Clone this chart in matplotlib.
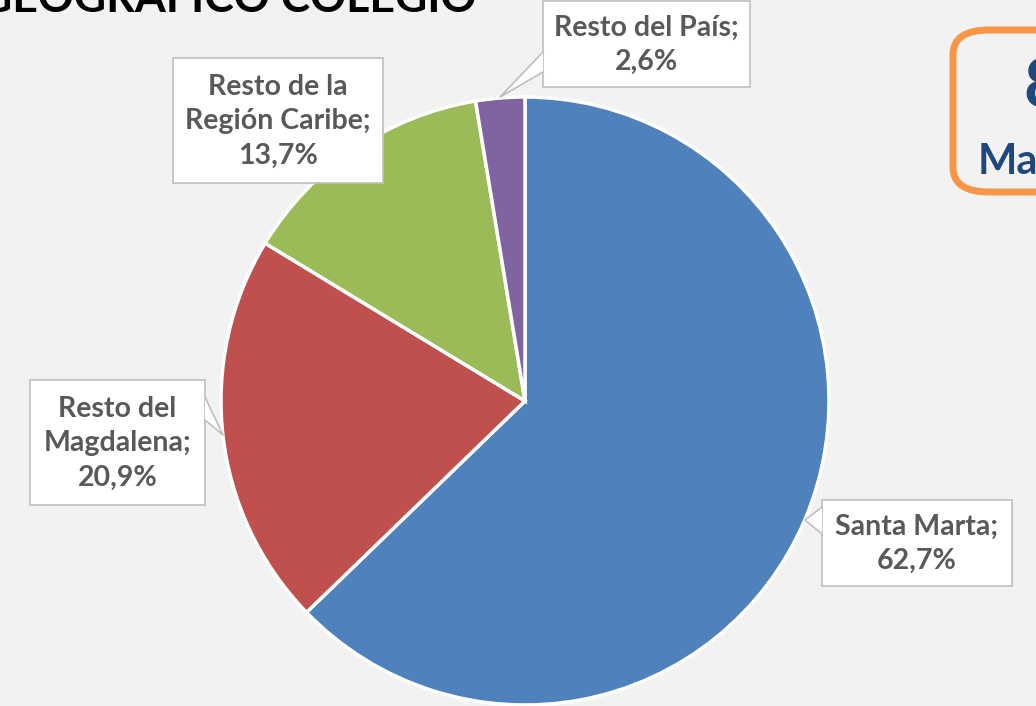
import matplotlib.pyplot as plt
from matplotlib.patches import Rectangle, Polygon, FancyBboxPatch
from matplotlib.lines import Line2D

categories = ["Santa Marta", "Resto del\nMagdalena", "Resto de la\nRegión Caribe", "Resto del País"]
values = [62.7, 20.9, 13.7, 2.6]
colors = ["#4F81BD", "#C0504D", "#9BBB59", "#8064A2"]

W, H = 1036, 706
BG = "#F2F2F2"
TXT = "#595959"
FONT = "Lato"

fig = plt.figure(figsize=(W / 100, H / 100), dpi=100, facecolor=BG)

def fx(x):
    return x / W

def fy(y):
    return 1 - y / H

# pie, center ~ (525, 401) px, radius ~ 304 px
cx, cy, r = 525, 401, 304
ax = fig.add_axes([fx(cx - r), fy(cy + r), 2 * r / W, 2 * r / H])
ax.set_facecolor(BG)
ax.pie(values, colors=colors, startangle=90, counterclock=False,
       wedgeprops=dict(edgecolor="white", linewidth=2.5), radius=1)
ax.set_xlim(-1, 1)
ax.set_ylim(-1, 1)
ax.axis("off")

def fmt(v):
    return f"{v:.1f}".replace(".", ",") + "%"

# callout boxes: (left, top, right, bottom) px, pointer (base1, tip, base2) px
boxes = [
    ((822, 500, 1012, 586), [(822, 507), (805, 520), (822, 534)]),
    ((30, 380, 205, 505), [(205, 397), (223, 435), (205, 420)]),
    ((173, 58, 383, 183), None),
    ((543, 1, 750, 87), [(543, 52), (500, 97), (543, 72)]),
]

for (cat, v), (box, ptr) in zip(zip(categories, values), boxes):
    l, t, rr, b = box
    fig.patches.append(Rectangle((fx(l), fy(b)), fx(rr) - fx(l), fy(t) - fy(b),
                                 transform=fig.transFigure, facecolor="white",
                                 edgecolor="#BFBFBF", linewidth=1.2, zorder=5))
    if ptr:
        pts = [(fx(x), fy(y)) for x, y in ptr]
        fig.patches.append(Polygon(pts, closed=True, transform=fig.transFigure,
                                   facecolor="white", edgecolor="none", zorder=6))
        fig.lines.append(Line2D([p[0] for p in pts], [p[1] for p in pts],
                                transform=fig.transFigure, color="#BFBFBF",
                                linewidth=1.2, zorder=7))
    fig.text(fx((l + rr) / 2), fy((t + b) / 2 + 1), f"{cat};\n{fmt(v)}",
             ha="center", va="center", fontsize=20.5, fontweight="bold",
             color=TXT, family=FONT, linespacing=1.4, zorder=8)

# title (cropped at top)
fig.text(fx(477), fy(12), "GEOGRÁFICO COLEGIO", ha="right", va="baseline",
         fontsize=32, fontweight="bold", color="black", family=FONT)

# orange rounded box on the right (cropped)
fig.patches.append(FancyBboxPatch((fx(953), fy(192)), fx(140), fy(30) - fy(192),
                                  boxstyle="round,pad=0,rounding_size=0.035",
                                  transform=fig.transFigure, facecolor="none",
                                  edgecolor="#F79646", linewidth=5, zorder=3))
fig.text(fx(1023), fy(89), "8", ha="left", va="center", fontsize=48,
         fontweight="bold", color="#1F497D", family=FONT)
fig.text(fx(978), fy(162), "Ma", ha="left", va="center", fontsize=30,
         fontweight="bold", color="#1F497D", family=FONT)

fig.savefig("out.png", dpi=100, facecolor=BG)
